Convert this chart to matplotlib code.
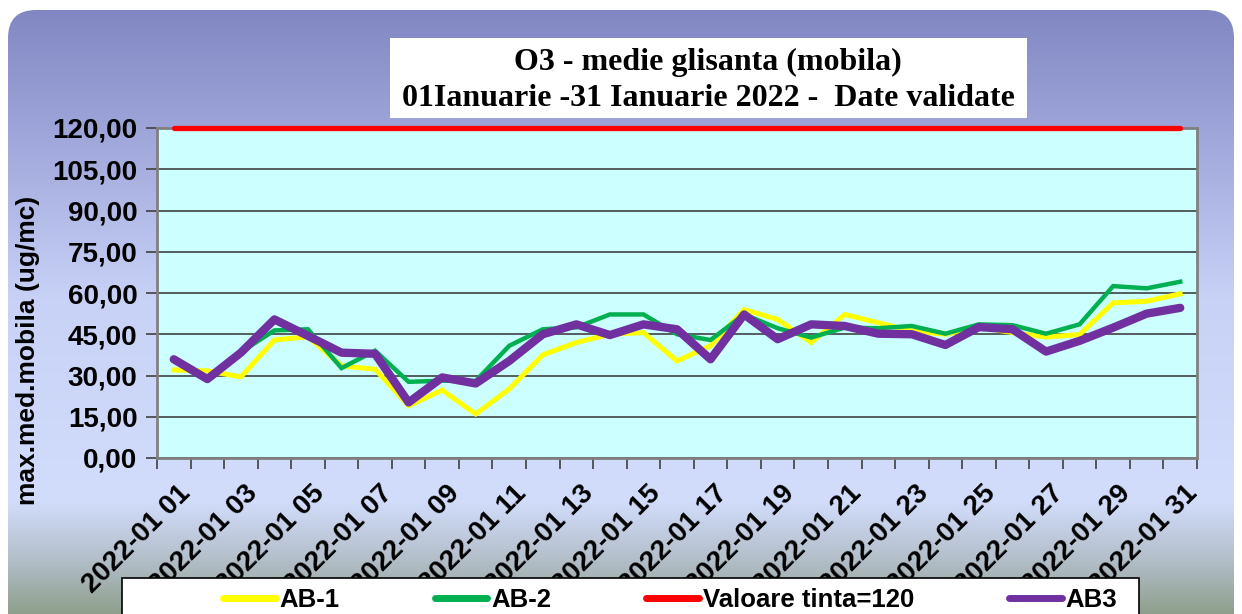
import matplotlib
matplotlib.use('Agg')
import matplotlib.pyplot as plt
import numpy as np
from matplotlib.patches import FancyBboxPatch, Rectangle
from matplotlib.lines import Line2D
from matplotlib.ticker import FuncFormatter, FixedLocator
import matplotlib.transforms as mtransforms

# data
days = ['2022-01 %02d' % d for d in range(1, 32)]
ab1 = [32.0, 31.7, 29.5, 42.9, 44.1, 33.5, 32.3, 19.0, 24.7, 16.0, 25.1,
       37.5, 42.0, 45.0, 45.6, 35.3, 40.8, 54.0, 50.4, 42.0, 52.2, 49.2,
       46.2, 45.0, 47.6, 45.6, 44.0, 44.9, 56.4, 57.0, 59.7]
ab2 = [35.5, 29.0, 38.5, 46.4, 46.8, 32.7, 39.0, 27.7, 28.1, 28.0, 40.8,
       46.8, 47.5, 52.2, 52.2, 45.0, 42.9, 52.2, 47.2, 43.8, 47.4, 47.2,
       48.0, 45.2, 48.6, 48.3, 45.2, 48.6, 62.5, 61.7, 64.1]
ab3 = [35.9, 28.7, 38.3, 50.4, 44.4, 38.3, 37.9, 20.2, 29.3, 27.1, 35.3,
       45.0, 48.6, 44.7, 48.6, 46.8, 35.9, 52.2, 43.2, 48.6, 48.0, 45.2,
       45.0, 41.1, 47.6, 46.8, 38.7, 42.6, 47.4, 52.5, 54.6]
target = [120] * len(days)
yticks = [0, 15, 30, 45, 60, 75, 90, 105, 120]

W, H = 1242, 614
plt.rcParams['font.family'] = ['Liberation Sans', 'DejaVu Sans']
plt.rcParams['font.weight'] = 'bold'

fig = plt.figure(figsize=(W / 100, H / 100), dpi=100)
fig.patch.set_facecolor('white')

# background panel with vertical gradient
bg = fig.add_axes([0, 0, 1, 1], zorder=-10)
bg.set_xlim(0, W)
bg.set_ylim(H, 0)
bg.axis('off')
stops_y = [10, 150, 300, 500, 560, 614]
stops_c = np.array([[129, 135, 194], [163, 170, 221], [200, 210, 246],
                    [210, 221, 252], [178, 190, 200], [142, 158, 140]]) / 255
yy = np.arange(H)
grad = np.stack([np.interp(yy, stops_y, stops_c[:, k]) for k in range(3)], axis=-1)
grad = grad[:, None, :]
im = bg.imshow(grad, aspect='auto', extent=[0, W, H, 0])
panel = FancyBboxPatch((8, 10), W - 16, 660, boxstyle='round,pad=0,rounding_size=28',
                       facecolor='none', edgecolor='none', transform=bg.transData)
bg.add_patch(panel)
im.set_clip_path(panel)

# title box
bg.add_patch(Rectangle((390, 38), 637, 80, facecolor='white', edgecolor='none'))
tfont = dict(family=['Liberation Serif', 'DejaVu Serif'], fontsize=23, fontweight='bold',
             ha='center', va='center')
bg.text(708, 62, 'O3 - medie glisanta (mobila)', **tfont)
bg.text(708, 98, '01Ianuarie -31 Ianuarie 2022 -  Date validate', **tfont)

# main plot
ax = fig.add_axes([157 / W, 1 - 458 / H, (1197 - 157) / W, (458 - 128) / H])
ax.set_facecolor('#CCFFFF')
x = np.arange(len(days))
ax.plot(x, ab1, color='#FFFF00', lw=3.6, solid_joinstyle='miter', zorder=3)
ax.plot(x, ab2, color='#00B050', lw=3.2, solid_joinstyle='miter', zorder=4)
ax.plot(x, target, color='#FF0000', lw=3.8, solid_capstyle='round', zorder=5, clip_on=False)
ax.plot(x, ab3, color='#7030A0', lw=6, solid_capstyle='round', zorder=6)

ax.set_xlim(-0.5, len(days) - 0.5)
ax.set_ylim(0, 120)
ax.set_yticks(yticks)
ax.yaxis.set_major_formatter(FuncFormatter(lambda v, p: ('%.2f' % v).replace('.', ',')))
ax.grid(axis='y', color='#333333', lw=1.1)
ax.set_axisbelow(True)
ax.tick_params(axis='y', length=8, width=1.2, color='#404040', labelsize=20, pad=6)

ax.xaxis.set_major_locator(FixedLocator(x[::2]))
ax.set_xticklabels(days[::2])
ax.xaxis.set_minor_locator(FixedLocator(np.arange(-0.5, len(days), 1)))
ax.tick_params(axis='x', which='major', length=0, labelsize=20, pad=0)
ax.tick_params(axis='x', which='minor', length=8, width=1.2, color='#404040')
off = mtransforms.ScaledTranslation(4 / 100, -22 / 100, fig.dpi_scale_trans)
for lab in ax.get_xticklabels():
    lab.set_rotation(45)
    lab.set_ha('right')
    lab.set_va('top')
    lab.set_rotation_mode('anchor')
    lab.set_transform(lab.get_transform() + off)

for s in ax.spines.values():
    s.set_color('#808080')
    s.set_linewidth(2)

ax.set_ylabel('max.med.mobila (ug/mc)', fontsize=19, fontweight='bold')
ax.yaxis.set_label_coords(-0.1125, 0.327)

# legend box covering the bottom of the tick labels
fig.add_artist(Rectangle((122 / W, -0.05), (1139 - 122) / W, 1.05 - 578 / H,
                         transform=fig.transFigure, facecolor='white',
                         edgecolor='black', lw=1.2, zorder=5))
handles = [Line2D([], [], color=c, lw=5, solid_capstyle='round')
           for c in ['#FFFF00', '#00B050', '#FF0000', '#7030A0']]
leg = fig.legend(handles, ['AB-1', 'AB-2', 'Valoare tinta=120', 'AB3'],
                 loc='center left', bbox_to_anchor=(223 / W, 1 - 600 / H),
                 ncol=4, frameon=False, fontsize=18.5, handlelength=2.05,
                 handletextpad=0.15, columnspacing=3.7, borderpad=0,
                 borderaxespad=0)
leg.set_zorder(6)

fig.savefig('out.png', dpi=100)
